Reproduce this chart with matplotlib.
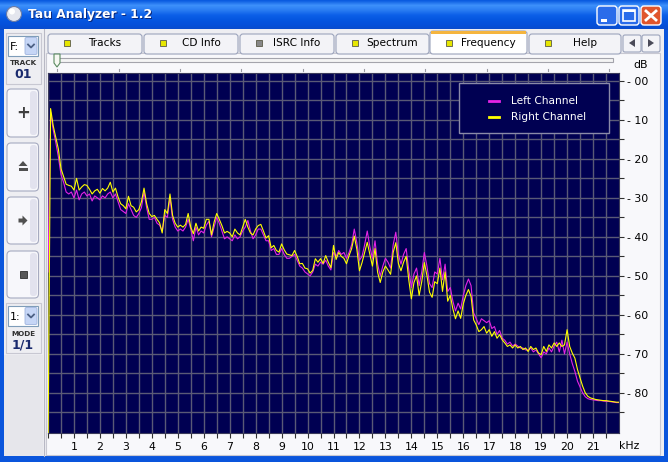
import numpy as np
import matplotlib
matplotlib.use("Agg")
import matplotlib.pyplot as plt
from matplotlib.patches import Rectangle, FancyBboxPatch, Polygon, Circle
from matplotlib.lines import Line2D
from matplotlib.colors import LinearSegmentedColormap

# spectrum bins are 0.1 kHz apart, first value is the DC bin
bin_khz = 0.1
dc_left = -49.0
dc_right = -95.0

right_db = [
    -7.1, -11.5, -14.5, -17.5, -22.5, -24.5, -26.5, -26.8, -27.0, -28.0,
    -25.0, -28.0, -27.2, -26.6, -26.8, -27.8, -29.0, -28.2, -27.8, -28.8,
    -27.6, -28.2, -27.5, -26.0, -28.5, -27.5, -29.8, -31.5, -32.0, -32.8,
    -29.6, -32.0, -32.4, -33.6, -33.0, -31.0, -27.5, -31.5, -34.0, -34.8,
    -34.5, -35.5, -36.4, -39.0, -33.0, -34.0, -29.0, -34.5, -36.5, -37.5,
    -37.0, -37.5, -36.8, -34.0, -37.5, -39.2, -36.5, -38.5, -37.5, -37.8,
    -35.5, -35.5, -39.5, -36.2, -34.0, -35.5, -37.1, -39.0, -38.6, -39.0,
    -40.0, -38.0, -39.0, -39.5, -37.5, -35.5, -37.5, -39.0, -39.5, -38.0,
    -37.1, -36.8, -38.5, -40.3, -39.7, -42.8, -42.2, -43.5, -43.9, -41.8,
    -43.3, -44.4, -44.6, -44.8, -43.5, -45.0, -46.9, -46.8, -48.0, -48.2,
    -49.3, -48.6, -45.6, -46.5, -45.6, -46.8, -44.8, -46.5, -47.9, -42.2,
    -45.8, -44.0, -45.0, -45.5, -46.9, -44.8, -43.0, -39.8, -43.2, -48.7,
    -46.6, -44.0, -41.4, -44.5, -47.5, -43.0, -49.1, -51.7, -49.0, -47.5,
    -48.5, -49.6, -44.0, -41.5, -46.8, -48.7, -46.5, -45.0, -51.0, -55.9,
    -51.7, -50.0, -55.0, -51.5, -46.6, -49.9, -54.2, -55.5, -51.5, -52.0,
    -48.0, -54.0, -49.0, -56.5, -55.0, -58.5, -61.0, -59.0, -60.9, -57.2,
    -55.0, -53.5, -55.3, -61.3, -62.6, -64.3, -63.8, -63.0, -64.7, -63.8,
    -65.5, -64.3, -66.0, -65.1, -66.4, -67.2, -68.1, -67.7, -68.5, -67.7,
    -68.5, -68.1, -68.9, -68.5, -69.4, -68.1, -68.9, -68.5, -69.8, -70.2,
    -68.1, -69.4, -67.7, -68.5, -67.2, -68.1, -67.2, -68.1, -67.7, -63.8,
    -68.1, -69.8, -71.1, -74.0, -76.2, -78.3, -80.0, -80.9, -81.3, -81.5,
    -81.7, -81.8, -81.9, -82.0, -82.0, -82.1, -82.2, -82.3, -82.4, -82.4,
]

left_db = [
    -8.0, -12.5, -15.8, -19.5, -24.0, -26.0, -28.5, -29.0, -28.5, -30.0,
    -28.0, -30.5, -29.0, -28.5, -29.5, -29.0, -30.8, -29.5, -30.0, -30.5,
    -29.5, -30.0, -29.0, -28.5, -30.0, -29.0, -31.0, -33.0, -33.5, -34.0,
    -31.5, -33.0, -34.5, -35.0, -34.0, -32.5, -28.5, -32.5, -35.5, -35.5,
    -35.0, -36.5, -37.0, -38.5, -34.5, -35.0, -30.0, -35.5, -37.5, -38.5,
    -38.0, -38.5, -37.5, -35.5, -38.0, -41.0, -37.5, -39.5, -38.5, -39.0,
    -37.0, -36.0, -40.0, -37.5, -35.0, -36.5, -38.5, -40.5, -40.0, -40.5,
    -41.0, -39.5, -40.5, -40.0, -38.5, -37.5, -35.8, -38.5, -40.5, -39.5,
    -38.0, -38.0, -39.5, -41.0, -41.0, -43.5, -43.0, -44.5, -44.5, -43.0,
    -44.5, -45.5, -45.5, -45.0, -44.5, -46.0, -47.5, -48.0, -49.0, -49.5,
    -50.0, -49.0, -47.0, -47.5, -46.5, -47.0, -46.0, -47.5, -48.5, -44.0,
    -45.0, -43.5, -44.5, -44.0, -45.5, -44.0, -42.0, -38.0, -41.5, -46.0,
    -45.0, -42.0, -38.5, -42.5, -45.5, -41.0, -47.0, -50.0, -47.5, -45.5,
    -46.5, -48.0, -42.0, -38.8, -44.5, -47.0, -44.5, -43.0, -48.5, -53.0,
    -49.5, -48.0, -52.5, -49.0, -44.0, -47.5, -52.0, -53.0, -49.0, -49.5,
    -45.5, -51.0, -47.0, -54.0, -53.0, -56.5, -59.0, -57.0, -58.5, -55.0,
    -52.5, -50.8, -52.5, -59.5, -61.0, -62.5, -61.0, -61.5, -62.0, -61.5,
    -63.5, -63.0, -65.0, -64.0, -66.0, -66.5, -67.5, -67.0, -68.0, -67.5,
    -68.0, -68.5, -68.5, -69.0, -69.0, -68.5, -69.5, -69.0, -70.0, -71.0,
    -69.5, -70.0, -68.5, -69.5, -68.0, -67.0, -69.5, -66.5, -70.0, -67.0,
    -70.0, -72.5, -74.5, -77.0, -78.5, -80.0, -81.0, -81.5, -81.7, -81.8,
    -81.9, -82.0, -82.0, -82.1, -82.2, -82.2, -82.3, -82.4, -82.5, -82.5,
]

series_names = ["Left Channel", "Right Channel"]
db_ticks = list(range(0, -90, -5))
khz_ticks = list(np.arange(0, 22, 0.5))
tab_names = ["Tracks", "CD Info", "ISRC Info", "Spectrum", "Frequency", "Help"]

freq = np.arange(len(right_db) + 1) * bin_khz
left = [dc_left] + left_db
right = [dc_right] + right_db

fig = plt.figure(figsize=(6.68, 4.62), dpi=100)

# ---- window chrome, drawn in pixel coords
bg = fig.add_axes([0, 0, 1, 1])
bg.set_xlim(0, 668)
bg.set_ylim(462, 0)
bg.axis("off")


def box(x0, y0, x1, y1, fc, ec="none", lw=1, z=1, r=0):
    if r:
        p = FancyBboxPatch((x0, y0), x1 - x0, y1 - y0,
                           boxstyle="round,pad=0,rounding_size=%g" % r,
                           fc=fc, ec=ec, lw=lw, zorder=z)
    else:
        p = Rectangle((x0, y0), x1 - x0, y1 - y0, fc=fc, ec=ec, lw=lw, zorder=z)
    bg.add_patch(p)
    return p


box(0, 0, 668, 462, "#0a55dc")
title_cm = LinearSegmentedColormap.from_list(
    "xp", ["#0a5be0", "#3d90fb", "#2a7cf2", "#0c60e8", "#0556e0", "#0550da", "#0a4ccc"])
bg.imshow(np.linspace(0, 1, 30)[:, None], extent=(0, 668, 30, 0), aspect="auto",
          cmap=title_cm, zorder=1)
box(4, 29, 664, 456, "#eeeef2", z=2)

# title bar
bg.add_patch(Circle((14, 14), 7.5, fc="#e4e6ee", ec="#6a7ca8", lw=0.8, zorder=3))
bg.add_patch(Circle((12, 11.5), 3, fc="white", ec="none", zorder=3))
bg.text(29, 15.5, "Tau Analyzer - 1.2", color="#0a2a80", fontsize=8.8,
        fontweight="bold", va="center", zorder=3)
bg.text(28, 14.5, "Tau Analyzer - 1.2", color="white", fontsize=8.8,
        fontweight="bold", va="center", zorder=3)
box(597, 6, 617, 25, "#2a6cea", ec="white", lw=1, z=3, r=3)
box(601, 19, 607, 21.5, "white", z=4)
box(619, 6, 639, 25, "#2a6cea", ec="white", lw=1, z=3, r=3)
box(623, 10, 635, 21, "none", ec="white", lw=1.2, z=4)
box(623, 10, 635, 12, "white", z=4)
box(641, 6, 661, 25, "#e0552d", ec="white", lw=1, z=3, r=3)
bg.plot([646, 656], [11, 20], color="white", lw=2, zorder=4)
bg.plot([646, 656], [20, 11], color="white", lw=2, zorder=4)

# tabs
tab_x = [(48, 142), (144, 238), (240, 334), (336, 429), (430, 527), (529, 621)]
for name, (x0, x1) in zip(tab_names, tab_x):
    selected = name == "Frequency"
    top = 31 if selected else 34
    box(x0, top, x1, 54, "white" if selected else "#f3f3f7", ec="#9ca4bc", lw=0.8,
        z=3, r=3)
    if selected:
        box(x0 + 1, 31, x1 - 1, 33.5, "#f5b53e", z=4)
    sq_fc = "#888888" if name == "ISRC Info" else "#e6e600"
    box(x0 + 16, 40, x0 + 22, 46, sq_fc, ec="#5a5a48", lw=0.6, z=4)
    bg.text((x0 + x1) / 2 + 10, 43.5, name, fontsize=7.6, ha="center", va="center",
            color="black", zorder=4)
for x0, pts in [(623, [(635, 39), (635, 47), (629, 43)]),
                (642, [(648, 39), (648, 47), (654, 43)])]:
    box(x0, 35, x0 + 18, 52, "#f3f3f7", ec="#9ca4bc", lw=0.8, z=3, r=2)
    bg.add_patch(Polygon(pts, closed=True, fc="#4a4a58", zorder=4))

# chart panel + slider
box(46, 53, 660, 455, "#f8f8fb", ec="#c8c8d2", lw=0.8, z=2)
box(56, 57.5, 613, 61.5, "#f4f4f4", ec="#a4a4ac", lw=0.8, z=3)
bg.add_patch(Polygon([(54, 54), (60, 54), (60, 63), (57, 67), (54, 63)], closed=True,
                     fc="#f6f8f2", ec="#5a8a60", lw=0.8, zorder=4))
for tx in np.linspace(57.3, 609.3, 10):
    bg.plot([tx, tx], [68.5, 71], color="#9a9aa2", lw=0.8, zorder=3)

bg.text(641, 65, "dB", fontsize=7.8, ha="center", va="center", zorder=3)
bg.text(629, 446, "kHz", fontsize=7.8, ha="center", va="center", zorder=3)

# left control strip
box(4, 355, 43, 456, "#e6e6eb", z=2)
bg.plot([43.5, 43.5], [29, 456], color="#b8b8c4", lw=0.8, zorder=3)
box(6, 33, 41, 84, "none", ec="#c8c8d2", lw=0.8, z=3)
box(6, 303, 41, 353, "none", ec="#c8c8d2", lw=0.8, z=3)
for y0, label in [(36, "F:"), (306, "1:")]:
    box(8, y0, 38, y0 + 20, "white", ec="#7f9db9", lw=0.8, z=3)
    bg.text(10, y0 + 10.5, label, fontsize=8, va="center", zorder=4)
    box(25, y0 + 1.5, 37, y0 + 18.5, "#c6d6f6", ec="#9fb4de", lw=0.6, z=4, r=1.5)
    bg.plot([28, 31, 34], [y0 + 8.5, y0 + 11.5, y0 + 8.5], color="#4d6185", lw=1.3,
            zorder=5)
bg.text(23, 63, "TRACK", fontsize=5.2, fontweight="bold", ha="center", va="center",
        color="#303030", zorder=3)
bg.text(23, 74.5, "01", fontsize=9, fontweight="bold", ha="center", va="center",
        color="#1a2a6e", zorder=3)
bg.text(23, 334, "MODE", fontsize=5.2, fontweight="bold", ha="center", va="center",
        color="#303030", zorder=3)
bg.text(23, 345, "1/1", fontsize=9, fontweight="bold", ha="center", va="center",
        color="#1a2a6e", zorder=3)
for y0, y1 in [(89, 137), (143, 191), (197, 244), (251, 298)]:
    box(7, y0, 38.5, y1, "#f7f7fb", ec="#a6aac0", lw=0.8, z=3, r=4)
    box(30, y0 + 2, 37, y1 - 2, "#e2e2ee", z=3, r=3)
bg.text(22.8, 112.5, "+", fontsize=12, fontweight="bold", ha="center", va="center",
        color="#404040", zorder=4)
bg.add_patch(Polygon([(18.5, 166), (27.5, 166), (23, 161)], closed=True, fc="#505050",
                     zorder=4))
box(18.5, 168, 27.5, 170.5, "#505050", z=4)
bg.add_patch(Polygon([(18.5, 218.5), (22.5, 218.5), (22.5, 215.5), (27.5, 220.5),
                      (22.5, 225.5), (22.5, 222.5), (18.5, 222.5)], closed=True,
                     fc="#505050", zorder=4))
box(19.5, 270.5, 26.5, 277.5, "#585858", ec="#303030", lw=0.6, z=4)

# ---- the spectrum plot
x0, x1, y0, y1 = 48, 619, 72.7, 433
ax = fig.add_axes([x0 / 668, (462 - y1) / 462, (x1 - x0) / 668, (y1 - y0) / 462])
ax.set_facecolor("#000052")
ax.plot(freq, left, color="#e424e4", lw=0.8, zorder=3)
ax.plot(freq, right, color="#ffff00", lw=0.8, zorder=4)
ax.set_xlim(0, 22.0)
ax.set_ylim(-90.3, 2.1)

ax.set_xticks(khz_ticks)
ax.set_xticklabels([str(int(v)) if v == int(v) and v > 0 else "" for v in khz_ticks])
ax.set_yticks(db_ticks)
ax.set_yticklabels(["- %02d" % abs(v) if v % 10 == 0 else "" for v in db_ticks])
ax.yaxis.tick_right()
ax.tick_params(axis="x", length=3.5, width=0.8, color="#303030", pad=3,
               labelsize=7.8, labelcolor="black")
ax.tick_params(axis="y", length=3.5, width=0.8, color="#303030", pad=2,
               labelsize=7.8, labelcolor="black")
ax.grid(True, color="#5a5a76", lw=1.0, zorder=1)
ax.set_axisbelow(True)
for s in ax.spines.values():
    s.set_color("#3a3a5a")
    s.set_linewidth(0.8)

# legend box
lx0, ly0, lx1, ly1 = 459, 83, 609, 133
ax.add_patch(Rectangle((lx0, ly0), lx1 - lx0, ly1 - ly0, transform=bg.transData,
                       fc="#000052", ec="#8a8aa8", lw=1.0, zorder=6, clip_on=False))
for name, color, ly in [(series_names[0], "#e424e4", 100.5),
                        (series_names[1], "#ffff00", 117)]:
    ax.add_line(Line2D([489, 499], [ly, ly], color=color, lw=2, transform=bg.transData,
                       zorder=7, clip_on=False))
    ax.text(511, ly, name, color="white", fontsize=7.6, va="center",
            transform=bg.transData, zorder=7, clip_on=False)

fig.savefig("out.png", dpi=100)
